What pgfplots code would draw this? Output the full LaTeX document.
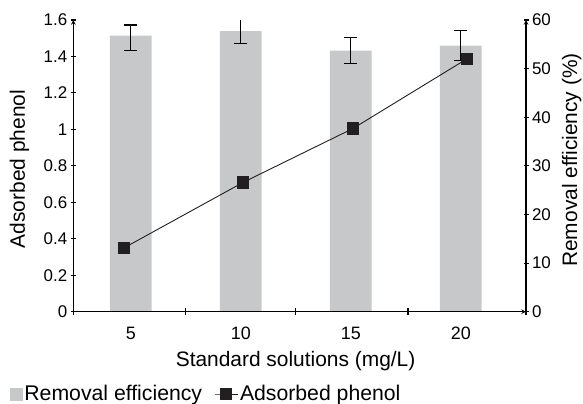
\documentclass[border=0pt]{standalone}
\usepackage{fontspec}
\setmainfont{Liberation Sans}
\usepackage{pgfplots}
\pgfplotsset{compat=1.18}
\definecolor{bargray}{RGB}{199,200,202}
\definecolor{mk}{RGB}{35,31,32}
\pgfplotsset{
  mylineleg/.style={legend image code/.code={\draw[mark repeat=2, mark phase=2, ##1, mark size=5.3bp] plot coordinates {(0bp,0bp) (11.5bp,0bp) (23bp,0bp)};}},
  mybarleg/.style={legend image code/.code={\fill[bargray] (0bp,-6bp) rectangle (12bp,6bp);}},
}
\pgfplotstableread{
x y ep em
0 56.77 2.20 3.09
1 57.73 2.82 2.61
2 53.68 2.67 2.67
3 54.71 3.09 3.09
}\removal
\pgfplotstableread{
x y
-0.062 0.350
1.020 0.709
2.020 1.005
3.056 1.387
}\phenol
\begin{document}
\begin{tikzpicture}
\pgfplotsset{
  common/.style={
    scale only axis, width=452.7bp, height=291.7bp,
    xmin=-0.523, xmax=3.593,
    /pgf/number format/assume math mode=true,
    tick label style={font=\fontsize{17}{17}\selectfont, text=black},
    axis line style={line width=1.1bp, -, black},
    tick style={line width=1.1bp, black},
    tick align=outside,
    major tick length=5bp,
    minor tick length=6.7bp,
  }
}
% bars: right axis
\begin{axis}[common, name=ax2,
  axis x line=none, axis y line=right,
  ymin=0, ymax=60, ytick={0,10,20,30,40,50,60},
  ylabel={Removal efficiency (\%)},
  every axis y label/.style={at={(axis description cs:1.101,0.52)}, rotate=90, anchor=center, font=\fontsize{21}{21}\selectfont},
]
\addplot[ybar, bar width=41.7bp, fill=bargray, draw=none,
  error bars/.cd, y dir=both, y explicit,
  error bar style={line width=1.2bp, black},
  error mark options={rotate=90, mark size=6.5bp, line width=1.2bp, black}]
  table[x=x, y=y, y error plus=ep, y error minus=em] {\removal};
\end{axis}
% line: left axis
\begin{axis}[common, name=ax,
  axis x line=bottom, axis y line=left,
  ymin=0, ymax=1.6, ytick={0,0.2,0.4,0.6,0.8,1,1.2,1.4,1.6},
  xtick={0,1,2,3}, xticklabels={5,10,15,20},
  minor xtick={-0.523,0.5,1.5,2.52,3.593},
  every major x tick/.append style={draw=none},
  xticklabel style={anchor=base, yshift=-25bp, font=\fontsize{18}{18}\selectfont},
  xlabel={Standard solutions (mg/L)},
  ylabel={Adsorbed phenol},
  every axis x label/.style={at={(axis description cs:0.491,-0.1886)}, anchor=base, font=\fontsize{21}{21}\selectfont},
  every axis y label/.style={at={(axis description cs:-0.119,0.489)}, rotate=90, anchor=center, font=\fontsize{21}{21}\selectfont},
  legend columns=2,
  legend style={draw=none, fill=none, inner sep=0pt, outer sep=0pt,
    at={(axis description cs:-0.1398,-0.2821)}, anchor=west,
    font=\fontsize{21.3}{21.3}\selectfont,
    nodes={inner sep=2bp},
    /tikz/every even column/.append style={column sep=10bp}},
  legend cell align=left,
]
\addlegendimage{mybarleg}
\addlegendentry{Removal efficiency}
\addplot[mk, line width=0.9bp, mark=square*, mark size=5.8bp, mark options={fill=mk, draw=mk}, mylineleg]
  table[x=x, y=y] {\phenol};
\addlegendentry{Adsorbed phenol}
\end{axis}
\pgfresetboundingbox
\path[use as bounding box] ([shift={(-73.3bp,-92.3bp)}]ax.south west) rectangle ([shift={(57bp,20bp)}]ax.north east);
\end{tikzpicture}
\end{document}
